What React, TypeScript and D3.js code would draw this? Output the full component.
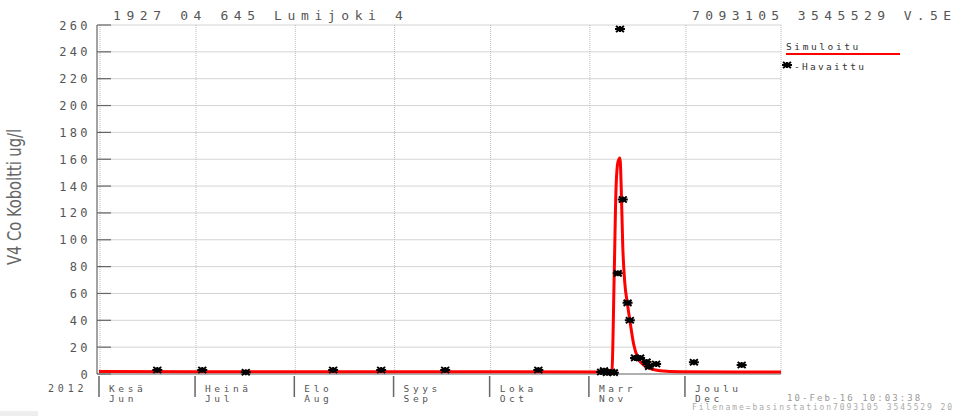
import React from "react";
import * as d3 from "d3";

// Observed cobalt concentrations (ug/l)
const obsDates: string[] = [
  "2012-06-19T05:00", "2012-07-03T06:00", "2012-07-16T20:00", "2012-08-13T03:00",
  "2012-08-28T03:00", "2012-09-17T03:00", "2012-10-16T05:00",
  "2012-11-04T20:00", "2012-11-05T17:00", "2012-11-06T14:00", "2012-11-07T22:00",
  "2012-11-08T19:00", "2012-11-10T00:00", "2012-11-10T17:00", "2012-11-11T14:00",
  "2012-11-13T02:00", "2012-11-13T19:00", "2012-11-15T10:00", "2012-11-17T00:00",
  "2012-11-19T00:00", "2012-11-19T19:00", "2012-11-22T00:00",
  "2012-12-03T19:00", "2012-12-18T17:00",
];
const obsValues: number[] = [
  3, 3, 1.3, 3,
  3, 3, 3,
  1.5, 2.5, 1, 1.5,
  1, 75, 257, 130,
  53, 40, 12, 12,
  9, 5.5, 7.5,
  8.7, 6.7,
];

// Simulated concentration curve
const simDates: string[] = [
  "2012-06-01T00:00", "2012-08-01T00:00", "2012-10-01T00:00", "2012-11-07T14:00",
  "2012-11-08T05:00", "2012-11-08T22:00", "2012-11-09T12:00", "2012-11-10T02:00",
  "2012-11-10T17:00", "2012-11-11T02:00", "2012-11-11T14:00", "2012-11-12T05:00",
  "2012-11-13T00:00", "2012-11-13T19:00", "2012-11-15T00:00", "2012-11-16T07:00",
  "2012-11-18T12:00", "2012-11-23T05:00", "2012-11-29T10:00", "2012-12-31T00:00",
];
const simValues: number[] = [
  1.8, 1.7, 1.6, 1.5,
  3, 75, 140, 158,
  161, 140, 95, 68,
  53, 40, 22, 12,
  6, 2.5, 1.7, 1.5,
];

const yTicks: number[] = [0, 20, 40, 60, 80, 100, 120, 140, 160, 180, 200, 220, 240, 260];
const monthStarts: string[] = [
  "2012-06-01", "2012-07-01", "2012-08-01", "2012-09-01",
  "2012-10-01", "2012-11-01", "2012-12-01",
];
const monthFi: string[] = ["Kesä", "Heinä", "Elo", "Syys", "Loka", "Marr", "Joulu"];
const monthEn: string[] = ["Jun", "Jul", "Aug", "Sep", "Oct", "Nov", "Dec"];

const parse = (s: string) => new Date(s);

export default function App() {
  const W = 960;
  const H = 416;
  const left = 99;
  const right = 781;
  const top = 25;
  const bottom = 374;

  const x = d3
    .scaleTime()
    .domain([parse("2012-06-01T00:00"), parse("2012-12-31T00:00")])
    .range([left, right]);
  const y = d3.scaleLinear().domain([0, 260]).range([bottom, top]);

  const sim = simDates.map((d, i) => ({ t: parse(d), v: simValues[i] }));
  const obs = obsDates.map((d, i) => ({ t: parse(d), v: obsValues[i] }));

  const line = d3
    .line<{ t: Date; v: number }>()
    .x((d) => x(d.t))
    .y((d) => y(d.v))
    .curve(d3.curveMonotoneX);

  const mono = "'DejaVu Sans Mono', monospace";
  const grey = "#555";

  const marker = "M-5,0H5M-4,-3L4,3M-4,3L4,-3M0,-3V3";

  return (
    <svg
      width={W}
      height={H}
      style={{ position: "fixed", left: 0, top: 0, background: "#fff" }}
    >
      <rect x={0} y={0} width={W} height={H} fill="#fff" />

      {/* horizontal grid */}
      {yTicks.map((t) => (
        <line
          key={"hg" + t}
          x1={left}
          x2={right}
          y1={y(t)}
          y2={y(t)}
          stroke="#d4d4d4"
          strokeWidth={1}
        />
      ))}
      {/* vertical month grid */}
      {monthStarts.map((m) => (
        <line
          key={"vg" + m}
          x1={x(parse(m + "T00:00")) + 1}
          x2={x(parse(m + "T00:00")) + 1}
          y1={top}
          y2={bottom}
          stroke="#bbb"
          strokeWidth={1}
          strokeDasharray="1,1"
        />
      ))}
      <line x1={right} x2={right} y1={top} y2={bottom} stroke="#bbb" strokeDasharray="1,1" />

      {/* y axis */}
      <line x1={left - 2} x2={left - 2} y1={top} y2={bottom} stroke="#666" strokeWidth={1.2} />
      {yTicks.map((t) => (
        <g key={"yt" + t}>
          <line x1={left - 2} x2={left + 12} y1={y(t)} y2={y(t)} stroke="#666" strokeWidth={1.2} />
          <text
            x={91}
            y={y(t) + 4.5}
            textAnchor="end"
            fontFamily={mono}
            fontSize={12}
            letterSpacing={3.4}
            fill={grey}
          >
            {t}
          </text>
        </g>
      ))}

      {/* x axis */}
      <line x1={left - 2} x2={right} y1={bottom} y2={bottom} stroke="#777" strokeWidth={1.2} />
      {monthStarts.map((m, i) => {
        const px = x(parse(m + "T00:00"));
        return (
          <g key={"xt" + m}>
            <line x1={px} x2={px} y1={bottom + 2} y2={bottom + 23} stroke="#666" strokeWidth={1.5} />
            <text x={px + 10} y={391.5} fontFamily={mono} fontSize={9.5} letterSpacing={3.6} fill={grey}>
              {monthFi[i]}
            </text>
            <text x={px + 10} y={401.5} fontFamily={mono} fontSize={9.5} letterSpacing={3.6} fill={grey}>
              {monthEn[i]}
            </text>
          </g>
        );
      })}
      <text x={48} y={392} fontFamily={mono} fontSize={10} letterSpacing={3.8} fill={grey}>
        2012
      </text>

      {/* y axis title */}
      <text
        transform="translate(21,197) rotate(-90)"
        textAnchor="middle"
        fontFamily="'DejaVu Sans', sans-serif"
        fontSize={19}
        textLength={136}
        lengthAdjust="spacingAndGlyphs"
        fill="#666"
      >
        V4 Co Koboltti ug/l
      </text>

      {/* titles */}
      <text x={113} y={20} fontFamily={mono} fontSize={13} letterSpacing={5.6} fill={grey}>
        1927 04 645 Lumijoki 4
      </text>
      <text x={692} y={20} fontFamily={mono} fontSize={13} letterSpacing={5.4} fill={grey}>
        7093105 3545529 V.5E
      </text>

      {/* simulated curve */}
      <path d={line(sim) || ""} fill="none" stroke="#ff0000" strokeWidth={3} strokeLinejoin="round" />

      {/* observed points */}
      {obs.map((d, i) => (
        <path
          key={"o" + i}
          d={marker}
          transform={`translate(${x(d.t)},${y(d.v)})`}
          stroke="#000"
          strokeWidth={2}
          fill="none"
        />
      ))}

      {/* legend */}
      <text x={786} y={50} fontFamily={mono} fontSize={9.5} letterSpacing={2.6} fill="#333">
        Simuloitu
      </text>
      <line x1={786} x2={900} y1={54} y2={54} stroke="#ff0000" strokeWidth={2} />
      <path d={marker} transform="translate(787,65)" stroke="#000" strokeWidth={2} fill="none" />
      <text x={794} y={70} fontFamily={mono} fontSize={9.5} letterSpacing={2.3} fill="#333">
        -Havaittu
      </text>

      {/* footer */}
      <text x={787} y={401} fontFamily={mono} fontSize={9} letterSpacing={2.1} fill="#999">
        10-Feb-16 10:03:38
      </text>
      <text x={692} y={410} fontFamily={mono} fontSize={8} letterSpacing={1.9} fill="#aaa">
        Filename=basinstation7093105 3545529 20
      </text>
      <rect x={0} y={411} width={38} height={5} fill="#eee" />
    </svg>
  );
}
